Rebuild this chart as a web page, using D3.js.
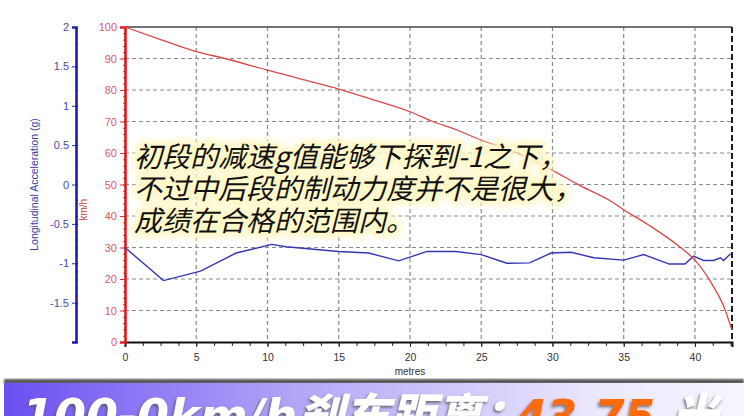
<!DOCTYPE html>
<html>
<head>
<meta charset="utf-8">
<script src="https://cdn.jsdelivr.net/npm/d3@7"></script>
<style>
  body { margin: 0; background: #fff; }
  #graf { width: 744px; height: 416px; overflow: hidden; }
</style>
</head>
<body>
<div id="graf"></div>
<script>
// Datos leidos de la grafica
// velocidad (km/h) contra distancia (m)
velDist = [0, 2.5, 5, 7, 10, 12.5, 15, 17.5, 20, 21.6, 23.3, 25, 27, 30, 32, 34, 35, 36.8, 38.9, 40, 41.3, 42, 42.6]
velKmh  = [100, 96, 92.2, 90, 86.3, 83.3, 80.3, 76.8, 73.1, 70, 67.3, 64.1, 61, 54.5, 49.5, 45, 42, 37, 30.3, 26, 17.6, 11.5, 3.8]

// aceleracion longitudinal (g) contra distancia (m)
accDist = [0, 2.7, 5.3, 7.8, 10.3, 11.3, 15, 17.1, 19.2, 21.2, 23.2, 25, 26.8, 28.4, 29.9, 31.3, 32.9, 35, 36.4, 38.2, 39.3, 39.9, 40.6, 41.3, 41.8, 42, 42.5]
accG    = [-0.80, -1.22, -1.10, -0.87, -0.76, -0.79, -0.85, -0.87, -0.97, -0.85, -0.85, -0.89, -1.0, -0.995, -0.87, -0.86, -0.93, -0.96, -0.89, -1.01, -1.01, -0.91, -0.965, -0.965, -0.93, -0.965, -0.88]

// etiquetas de los ejes
xTicks   = [0, 5, 10, 15, 20, 25, 30, 35, 40]
kmhTicks = [0, 10, 20, 30, 40, 50, 60, 70, 80, 90, 100]
gTicks   = [2, 1.5, 1, 0.5, 0, -0.5, -1, -1.5]

nota = ['初段的减速g值能够下探到-1之下，', '不过中后段的制动力度并不是很大，', '成绩在合格的范围内。']
banner = [
  {t: '100-0km/h', color: '#fff', size: 46},
  {t: '刹车距离：', color: '#fff', size: 46},
  {t: '43.75', color: '#ff6a10', size: 44},
  {t: '米', color: '#fff', size: 46}
]
bannerX = [22, 298, 516, 672]

// Configuracion del canvas
ancho_total = 744
alto_total = 416
margins = {top: 27, left: 125, right: 12, bottom: 74}
ancho = ancho_total - margins.left - margins.right
alto  = alto_total - margins.top - margins.bottom

svg = d3.select('#graf').append('svg')
        .attr('width', ancho_total)
        .attr('height', alto_total)
        .style('font-family', 'Arial, "Liberation Sans", sans-serif')

defs = svg.append('defs')
grad = defs.append('linearGradient').attr('id', 'bandaGrad')
grad.append('stop').attr('offset', '0%').attr('stop-color', '#6c4ff2')
grad.append('stop').attr('offset', '40%').attr('stop-color', '#b4a6f7')
grad.append('stop').attr('offset', '80%').attr('stop-color', '#ebe8fd')
grad.append('stop').attr('offset', '100%').attr('stop-color', '#f6f5ff')

sombra = defs.append('filter').attr('id', 'sombra')
  .attr('x', '-10%').attr('y', '-20%').attr('width', '120%').attr('height', '150%')
sombra.append('feDropShadow').attr('dx', -1.5).attr('dy', 2).attr('stdDeviation', 1.5)
  .attr('flood-color', '#555').attr('flood-opacity', 0.8)

halo = defs.append('filter').attr('id', 'halo')
halo.append('feGaussianBlur').attr('stdDeviation', 3)

lineaSombra = defs.append('filter').attr('id', 'lineaSombra')
lineaSombra.append('feGaussianBlur').attr('stdDeviation', 1.2)

g = svg.append('g')
       .attr('transform', `translate(${margins.left}, ${margins.top})`)

// -- Escaladores --
x = d3.scaleLinear().domain([0, 42.6]).range([0, ancho])
yKmh = d3.scaleLinear().domain([0, 100]).range([alto, 0])
yG = d3.scaleLinear().domain([-2, 2]).range([alto, 0])

// -- Rejilla --
g.append('g').selectAll('line')
  .data(kmhTicks.filter(d => d > 0 && d < 100))
  .enter().append('line')
  .attr('x1', 0).attr('x2', ancho)
  .attr('y1', d => yKmh(d)).attr('y2', d => yKmh(d))
  .attr('stroke', '#8a8a8a').attr('stroke-dasharray', '4,3').attr('stroke-width', 1.2)

g.append('g').selectAll('line')
  .data(xTicks.filter(d => d > 0))
  .enter().append('line')
  .attr('x1', d => x(d)).attr('x2', d => x(d))
  .attr('y1', 0).attr('y2', alto)
  .attr('stroke', '#8a8a8a').attr('stroke-dasharray', '4,3').attr('stroke-width', 1.2)

// borde superior y derecho
g.append('line').attr('x1', 0).attr('x2', ancho).attr('y1', 0).attr('y2', 0)
  .attr('stroke', '#444').attr('stroke-width', 1.5)
g.append('line').attr('x1', ancho).attr('x2', ancho).attr('y1', 0).attr('y2', alto)
  .attr('stroke', '#1a1a2a').attr('stroke-width', 2).attr('stroke-dasharray', '6,3')

// -- Eje X --
xMinor = g.append('g').attr('transform', `translate(0, ${alto})`)
xMinor.call(d3.axisBottom(x).tickValues(d3.range(0, 42.6, 1.25)).tickSize(4).tickFormat(''))
xMinor.select('.domain').remove()
xMinor.selectAll('.tick line').attr('stroke', '#222')

xAxGroup = g.append('g').attr('transform', `translate(0, ${alto})`)
xAxGroup.call(d3.axisBottom(x).tickValues(xTicks).tickSize(5).tickPadding(7).tickFormat(d => String(d)))
xAxGroup.selectAll('.domain').attr('stroke', '#111').attr('stroke-width', 2)
xAxGroup.selectAll('.tick line').attr('stroke', '#222')
xAxGroup.selectAll('text').attr('fill', '#333').style('font-size', '10.5px')

g.append('text').attr('x', x(20)).attr('y', alto + 33)
  .attr('text-anchor', 'middle').attr('fill', '#333').style('font-size', '10px')
  .text('metres')

// -- Eje km/h (rojo) --
kmhMinor = g.append('g')
kmhMinor.call(d3.axisLeft(yKmh).tickValues(d3.range(0, 101, 2)).tickSize(2).tickFormat(''))
kmhMinor.select('.domain').remove()
kmhMinor.selectAll('.tick line').attr('stroke', '#e03030')

kmhAxGroup = g.append('g')
kmhAxGroup.call(d3.axisLeft(yKmh).tickValues(kmhTicks).tickSize(5).tickPadding(3).tickFormat(d => String(d)))
kmhAxGroup.selectAll('.domain').attr('stroke', '#e01010').attr('stroke-width', 2.5)
kmhAxGroup.selectAll('.tick line').attr('stroke', '#e03030')
kmhAxGroup.selectAll('text').attr('fill', '#e05a5a').style('font-size', '11px')

g.append('text')
  .attr('transform', `translate(-38, ${yKmh(42)}) rotate(-90)`)
  .attr('text-anchor', 'middle').attr('fill', '#d03a3a').style('font-size', '10px')
  .text('km/h')

// -- Eje g (azul) --
gMinor = g.append('g').attr('transform', 'translate(-49, 0)')
gMinor.call(d3.axisRight(yG).tickValues(d3.range(-2, 2.01, 0.1)).tickSize(2).tickFormat(''))
gMinor.select('.domain').remove()
gMinor.selectAll('.tick line').attr('stroke', '#2a2ab0')

gAxGroup = g.append('g').attr('transform', 'translate(-49, 0)')
gAxGroup.call(d3.axisLeft(yG).tickValues(gTicks).tickSize(4).tickPadding(3).tickFormat(d => String(d)))
gAxGroup.selectAll('.domain').attr('stroke', '#1616b0').attr('stroke-width', 2.5)
gAxGroup.selectAll('.tick line').attr('stroke', '#2a2ab0')
gAxGroup.selectAll('text').attr('fill', '#4a4aa8').style('font-size', '11px')

g.append('text')
  .attr('transform', `translate(-87, ${yG(0)}) rotate(-90)`)
  .attr('text-anchor', 'middle').attr('fill', '#3a3aa6').style('font-size', '10.5px')
  .text('Longitudinal Acceleration (g)')

// -- Series --
lineaVel = d3.line().x((d, i) => x(velDist[i])).y(d => yKmh(d)).curve(d3.curveMonotoneX)
lineaAcc = d3.line().x((d, i) => x(accDist[i])).y(d => yG(d))

g.append('path').datum(accG)
  .attr('d', lineaAcc).attr('fill', 'none')
  .attr('stroke', '#3636b4').attr('stroke-width', 1.4)

g.append('path').datum(velKmh)
  .attr('d', lineaVel).attr('fill', 'none')
  .attr('stroke', '#d84848').attr('stroke-width', 1.3)

// -- Nota --
notaG = svg.append('g')
  .style('font-family', '"Noto Sans CJK SC", sans-serif')
  .style('font-size', '28px').style('font-style', 'italic')
notaG.selectAll('text.halo').data(nota).enter().append('text')
  .attr('class', 'halo')
  .attr('x', 134).attr('y', (d, i) => 167 + i * 32)
  .attr('fill', '#fffbd6').attr('stroke', '#fff8c8').attr('stroke-width', 10)
  .attr('stroke-linejoin', 'round').attr('filter', 'url(#halo)')
  .text(d => d)
notaG.selectAll('text.txt').data(nota).enter().append('text')
  .attr('class', 'txt')
  .attr('x', 134).attr('y', (d, i) => 167 + i * 32)
  .attr('fill', '#111')
  .text(d => d)

// -- Banda inferior --
svg.append('rect').attr('x', 4).attr('y', 379).attr('width', 740).attr('height', 5)
  .attr('fill', '#555').attr('filter', 'url(#lineaSombra)')
svg.append('rect').attr('x', 4).attr('y', 383).attr('width', 740).attr('height', 40)
  .attr('fill', 'url(#bandaGrad)')

bandaTxt = svg.append('text').attr('y', 432)
  .attr('filter', 'url(#sombra)')
  .style('font-style', 'italic')
bandaTxt.selectAll('tspan').data(banner).enter().append('tspan')
  .attr('x', (d, i) => bannerX[i])
  .attr('fill', d => d.color)
  .style('font-size', d => `${d.size}px`)
  .style('font-family', (d, i) => i % 2 ? '"Noto Sans CJK SC", sans-serif' : '"DejaVu Sans", sans-serif')
  .style('font-weight', (d, i) => i % 2 ? 900 : 'bold')
  .text(d => d.t)
</script>
</body>
</html>
